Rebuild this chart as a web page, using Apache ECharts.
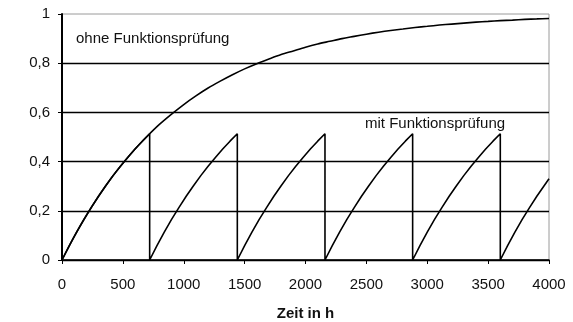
<!DOCTYPE html>
<html>
<head>
<meta charset="utf-8">
<script src="https://cdn.jsdelivr.net/npm/echarts@6/dist/echarts.min.js"></script>
<style>
  html, body { margin: 0; padding: 0; background: #fff; }
  #main { width: 573px; height: 322px; }
</style>
</head>
<body>
<div id="main"></div>
<script>
// ohne Funktionsprüfung, read every 100 h
var ohneTime = [0, 100, 200, 300, 400, 500, 600, 700, 800, 900, 1000, 1100, 1200, 1300, 1400,
  1500, 1600, 1700, 1800, 1900, 2000, 2100, 2200, 2300, 2400, 2500, 2600, 2700, 2800, 2900,
  3000, 3100, 3200, 3300, 3400, 3500, 3600, 3700, 3800, 3900, 4000];
var ohneValue = [0, 0.095, 0.181, 0.259, 0.33, 0.393, 0.451, 0.503, 0.551, 0.593, 0.632, 0.667, 0.699, 0.727, 0.753,
  0.777, 0.798, 0.817, 0.835, 0.85, 0.865, 0.878, 0.889, 0.90, 0.909, 0.918, 0.926, 0.933, 0.939, 0.945,
  0.95, 0.955, 0.959, 0.963, 0.967, 0.97, 0.973, 0.975, 0.978, 0.98, 0.982];

// mit Funktionsprüfung (sawtooth, test every 720 h)
var mitTime = [0, 60, 120, 180, 240, 300, 360, 420, 480, 540, 600, 660, 720,
  720, 780, 840, 900, 960, 1020, 1080, 1140, 1200, 1260, 1320, 1380, 1440,
  1440, 1500, 1560, 1620, 1680, 1740, 1800, 1860, 1920, 1980, 2040, 2100, 2160,
  2160, 2220, 2280, 2340, 2400, 2460, 2520, 2580, 2640, 2700, 2760, 2820, 2880,
  2880, 2940, 3000, 3060, 3120, 3180, 3240, 3300, 3360, 3420, 3480, 3540, 3600,
  3600, 3660, 3720, 3780, 3840, 3900, 3960, 4000];
var mitValue = [0, 0.058, 0.113, 0.165, 0.213, 0.259, 0.302, 0.343, 0.381, 0.417, 0.451, 0.483, 0.513,
  0, 0.058, 0.113, 0.165, 0.213, 0.259, 0.302, 0.343, 0.381, 0.417, 0.451, 0.483, 0.513,
  0, 0.058, 0.113, 0.165, 0.213, 0.259, 0.302, 0.343, 0.381, 0.417, 0.451, 0.483, 0.513,
  0, 0.058, 0.113, 0.165, 0.213, 0.259, 0.302, 0.343, 0.381, 0.417, 0.451, 0.483, 0.513,
  0, 0.058, 0.113, 0.165, 0.213, 0.259, 0.302, 0.343, 0.381, 0.417, 0.451, 0.483, 0.513,
  0, 0.058, 0.113, 0.165, 0.213, 0.259, 0.302, 0.33];

var xTicks = { min: 0, max: 4000, interval: 500 };
var yTicks = { min: 0, max: 1, interval: 0.2 };
var xName = "Zeit in h";
var labelOhne = "ohne Funktionsprüfung";
var labelMit = "mit Funktionsprüfung";

function pairs(xs, ys) {
  return xs.map(function (x, i) { return [x, ys[i]]; });
}

var font = "Liberation Sans, Arial, sans-serif";
var myChart = echarts.init(document.getElementById("main"));
var option = {
  animation: false,
  grid: {
    left: 62,
    right: 24,
    top: 14,
    bottom: 62,
    outerBoundsMode: "none",
    containLabel: false,
    show: true,
    borderColor: "#9a9a9a",
    borderWidth: 1,
  },
  xAxis: {
    type: "value",
    min: xTicks.min,
    max: xTicks.max,
    interval: xTicks.interval,
    name: xName,
    nameLocation: "middle",
    nameGap: 46,
    nameTextStyle: { fontFamily: font, fontSize: 15, fontWeight: "bold", color: "#111" },
    axisLine: { lineStyle: { color: "#000", width: 1.5 } },
    axisTick: { show: true, length: 4, lineStyle: { color: "#000" } },
    axisLabel: {
      fontFamily: font,
      fontSize: 15,
      color: "#111",
      margin: 17,
      formatter: function (v) {
        return String(v);
      },
    },
    splitLine: { show: false },
  },
  yAxis: {
    type: "value",
    min: yTicks.min,
    max: yTicks.max,
    interval: yTicks.interval,
    axisLine: { show: true, lineStyle: { color: "#000", width: 2 } },
    axisTick: { show: true, length: 4, lineStyle: { color: "#000" } },
    axisLabel: {
      fontFamily: font,
      fontSize: 15,
      color: "#111",
      margin: 12,
      formatter: function (v) {
        return String(Math.round(v * 10) / 10).replace(".", ",");
      },
    },
    splitLine: {
      show: true,
      showMaxLine: false,
      lineStyle: { color: "#000", width: 1.3 },
    },
  },
  series: [
    {
      name: labelOhne,
      type: "line",
      data: pairs(ohneTime, ohneValue),
      smooth: 0.3,
      symbol: "none",
      lineStyle: { color: "#000", width: 1.6 },
    },
    {
      name: labelMit,
      type: "line",
      data: pairs(mitTime, mitValue),
      symbol: "none",
      lineStyle: { color: "#000", width: 1.6 },
    },
  ],
  graphic: [
    {
      type: "text",
      left: 76,
      top: 31,
      style: { text: labelOhne, fontFamily: font, fontSize: 15, fill: "#111" },
    },
    {
      type: "text",
      left: 365,
      top: 116,
      style: { text: labelMit, fontFamily: font, fontSize: 15, fill: "#111" },
    },
  ],
};
myChart.setOption(option);
window.addEventListener("resize", function () {
  myChart.resize();
});
</script>
</body>
</html>
